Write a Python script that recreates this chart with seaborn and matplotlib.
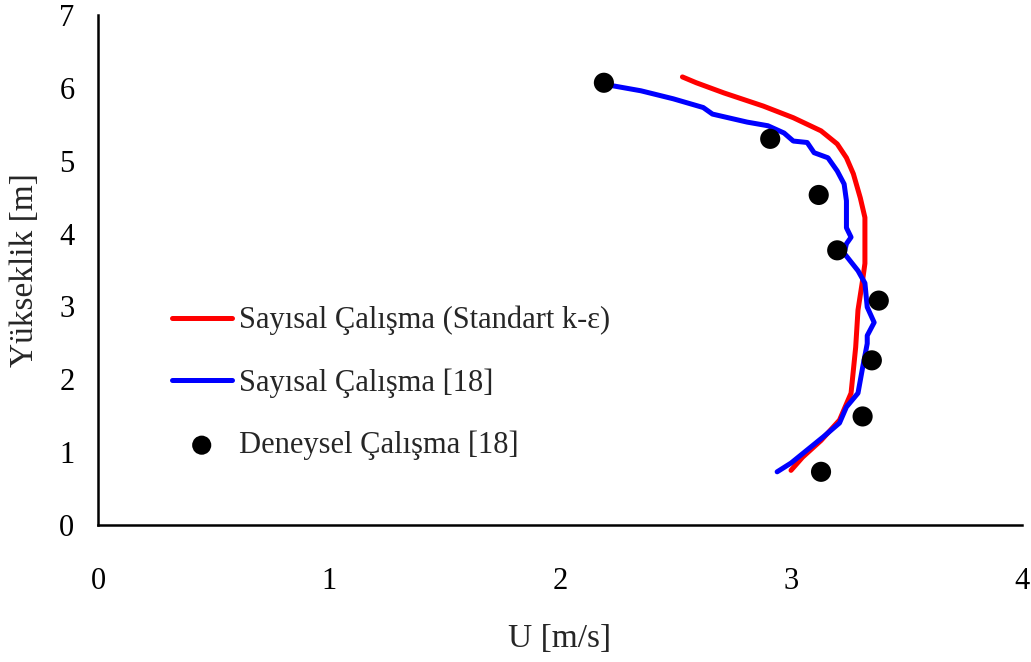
import matplotlib
matplotlib.use("Agg")
import matplotlib.pyplot as plt
import seaborn as sns

# Velocity profiles: U [m/s] versus height [m]
red_u = [2.53, 2.59, 2.71, 2.88, 3.01, 3.13, 3.20, 3.24, 3.27, 3.30, 3.32, 3.32,
         3.32, 3.31, 3.29, 3.28, 3.26, 3.21, 3.13, 3.05, 3.00]
red_h = [6.15, 6.07, 5.93, 5.75, 5.59, 5.41, 5.23, 5.04, 4.82, 4.49, 4.22, 4.00,
         3.59, 3.36, 2.95, 2.44, 1.81, 1.44, 1.16, 0.93, 0.75]

blue_u = [2.19, 2.35, 2.49, 2.62, 2.66, 2.81, 2.90, 2.97, 3.01, 3.07, 3.10, 3.16,
          3.20, 3.23, 3.24, 3.24, 3.26, 3.24, 3.23, 3.29, 3.32, 3.33, 3.36, 3.33,
          3.33, 3.31, 3.29, 3.24, 3.21, 3.14, 3.07, 3.00, 2.94]
blue_h = [6.05, 5.96, 5.85, 5.73, 5.64, 5.53, 5.48, 5.38, 5.27, 5.25, 5.11, 5.04,
          4.86, 4.68, 4.45, 4.08, 3.95, 3.86, 3.73, 3.49, 3.32, 2.99, 2.78, 2.60,
          2.49, 2.16, 1.81, 1.62, 1.40, 1.21, 1.03, 0.85, 0.73]

exp_u = [2.19, 2.91, 3.12, 3.20, 3.38, 3.35, 3.31, 3.13]
exp_h = [6.07, 5.30, 4.53, 3.77, 3.08, 2.26, 1.49, 0.73]

labels = ["Sayısal Çalışma (Standart k-ε)", "Sayısal Çalışma [18]", "Deneysel Çalışma [18]"]
x_ticks = [0, 1, 2, 3, 4]
y_ticks = [0, 1, 2, 3, 4, 5, 6, 7]

sns.set_style("white")
plt.rcParams["font.family"] = ["Liberation Serif", "DejaVu Serif"]

fig = plt.figure(figsize=(10.31, 6.62), dpi=100)
ax = fig.add_axes([98 / 1031, 1 - 525 / 662, (1022 - 98) / 1031, (525 - 15) / 662])

sns.lineplot(x=red_u, y=red_h, sort=False, estimator=None, color="#ff0000",
             linewidth=3.6, label=labels[0], ax=ax)
sns.lineplot(x=blue_u, y=blue_h, sort=False, estimator=None, color="#0000ff",
             linewidth=3.6, label=labels[1], ax=ax)
sns.scatterplot(x=exp_u, y=exp_h, color="black", s=210, edgecolor="none",
                label=labels[2], ax=ax, zorder=3)

ax.set_xlim(0, 4)
ax.set_ylim(0, 7)
ax.set_xticks(x_ticks)
ax.set_yticks(y_ticks)
ax.tick_params(axis="both", direction="in", length=9, width=1.5, labelsize=22,
               colors="black")
ax.tick_params(axis="x", pad=30)
ax.tick_params(axis="y", pad=17)

for side in ["top", "right"]:
    ax.spines[side].set_visible(False)
for side in ["left", "bottom"]:
    ax.spines[side].set_linewidth(1.8)
    ax.spines[side].set_color("black")

ax.set_xlabel("U [m/s]", fontsize=24, labelpad=20)
ax.set_ylabel("Yükseklik [m]", fontsize=24, labelpad=14)

ax.legend(loc="upper left", bbox_to_anchor=(0.08, 0.43), frameon=False,
          fontsize=22, handlelength=1.95, handletextpad=0.25, labelspacing=1.08,
          borderpad=0, borderaxespad=0, markerscale=0.95)

fig.savefig("out.png", dpi=100)
